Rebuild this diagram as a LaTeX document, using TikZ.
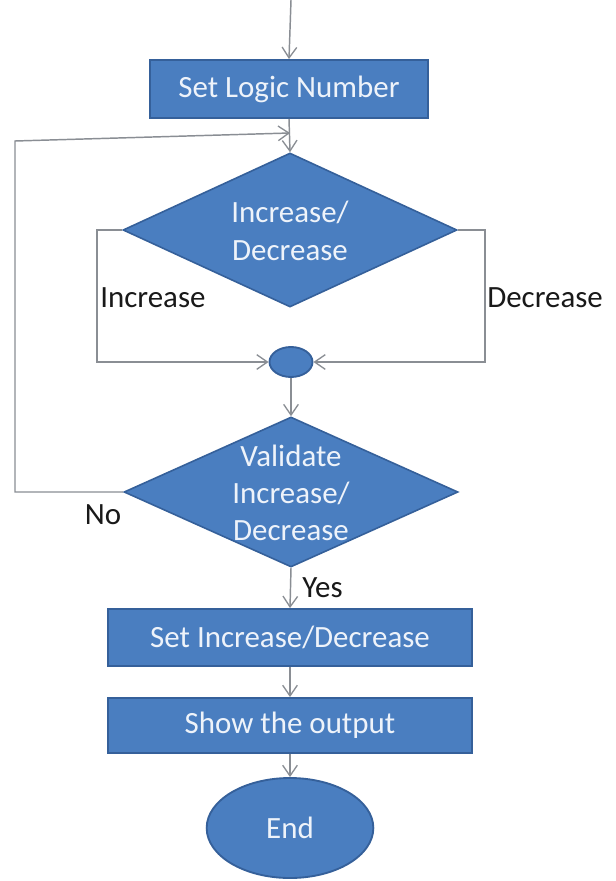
\documentclass[tikz,border=0pt]{standalone}
\usepackage{fontspec}
\setmainfont{Carlito}
\usetikzlibrary{shapes.geometric,arrows.meta}
\definecolor{boxfill}{HTML}{4A7EC0}
\definecolor{boxline}{HTML}{35609A}
\definecolor{wire}{HTML}{8A8E94}
\definecolor{boxtext}{HTML}{EEF3FA}
\begin{document}
\begin{tikzpicture}[x=0.75pt,y=-0.75pt,
  every node/.style={font=\fontsize{23.2}{28}\selectfont},
  procbox/.style={draw=boxline,line width=1.4pt,fill=boxfill,text=boxtext,
    minimum width=273pt,minimum height=42.75pt,inner sep=0pt},
  decision/.style={diamond,draw=boxline,line width=1.2pt,fill=boxfill,
    minimum width=250.5pt,minimum height=115.5pt,inner sep=0pt,aspect=2.17},
  dtext/.style={text=boxtext,align=center,inner sep=0pt},
  terminal/.style={ellipse,draw=boxline,line width=1.4pt,fill=boxfill,text=boxtext,inner sep=0pt},
  caption/.style={text=black!90,inner sep=0pt},
  flow/.style={draw=wire,line width=1.1pt,-{Straight Barb[length=8pt,width=11pt,line width=1pt]}},
  wireline/.style={draw=wire,line width=1.1pt}]
\useasboundingbox (0,0) rectangle (616,881);
\fill[white] (0,0) rectangle (616,881);

% nodes
\coordinate (start) at (291,0);
\node[procbox,minimum width=208.5pt,minimum height=43.5pt] (setlogic) at (289,89) {Set Logic Number};
\node[decision] (incdec) at (290,230) {};
\node[dtext] at (290,231) {Increase/\\Decrease};
\node[terminal,minimum width=32.25pt,minimum height=22.5pt] (join) at (291,362) {};
\node[decision,minimum height=112.5pt] (validate) at (291,492) {};
\node[dtext] at (291,493) {Validate\\Increase/\\Decrease};
\node[procbox,minimum height=42.75pt] (setinc) at (290,637.5) {Set Increase/Decrease};
\node[procbox,minimum height=41.25pt] (show) at (290,725.5) {Show the output};
\node[terminal,minimum width=125pt,minimum height=75pt] (end) at (290,828) {End};

% branch labels
\node[caption,anchor=west] (lblinc) at (100,298) {Increase};
\node[caption,anchor=west] (lbldec) at (487,298) {Decrease};
\node[caption] (lblno) at (103,515) {No};
\node[caption,anchor=west] (lblyes) at (302,588) {Yes};

% routing points
\coordinate (lcorner) at (97,362);
\coordinate (rcorner) at (485,362);
\coordinate (fbbottom) at (15,492);
\coordinate (fbtop) at (15,141);
\coordinate (fbin) at (290,133);

% connectors
\draw[flow] (start) -- (setlogic.north);
\draw[flow] (setlogic.south) -- (incdec.north);
\draw[flow] (incdec.west) -| (lcorner) -- (join.west);
\draw[flow] (incdec.east) -| (rcorner) -- (join.east);
\draw[flow] (join.south) -- (validate.north);
\draw[flow] (validate.west) -- (fbbottom) -- (fbtop) -- (fbin);
\draw[flow] (validate.south) -- (setinc.north);
\draw[flow] (setinc.south) -- (show.north);
\draw[flow] (show.south) -- (end.north);
\end{tikzpicture}
\end{document}
